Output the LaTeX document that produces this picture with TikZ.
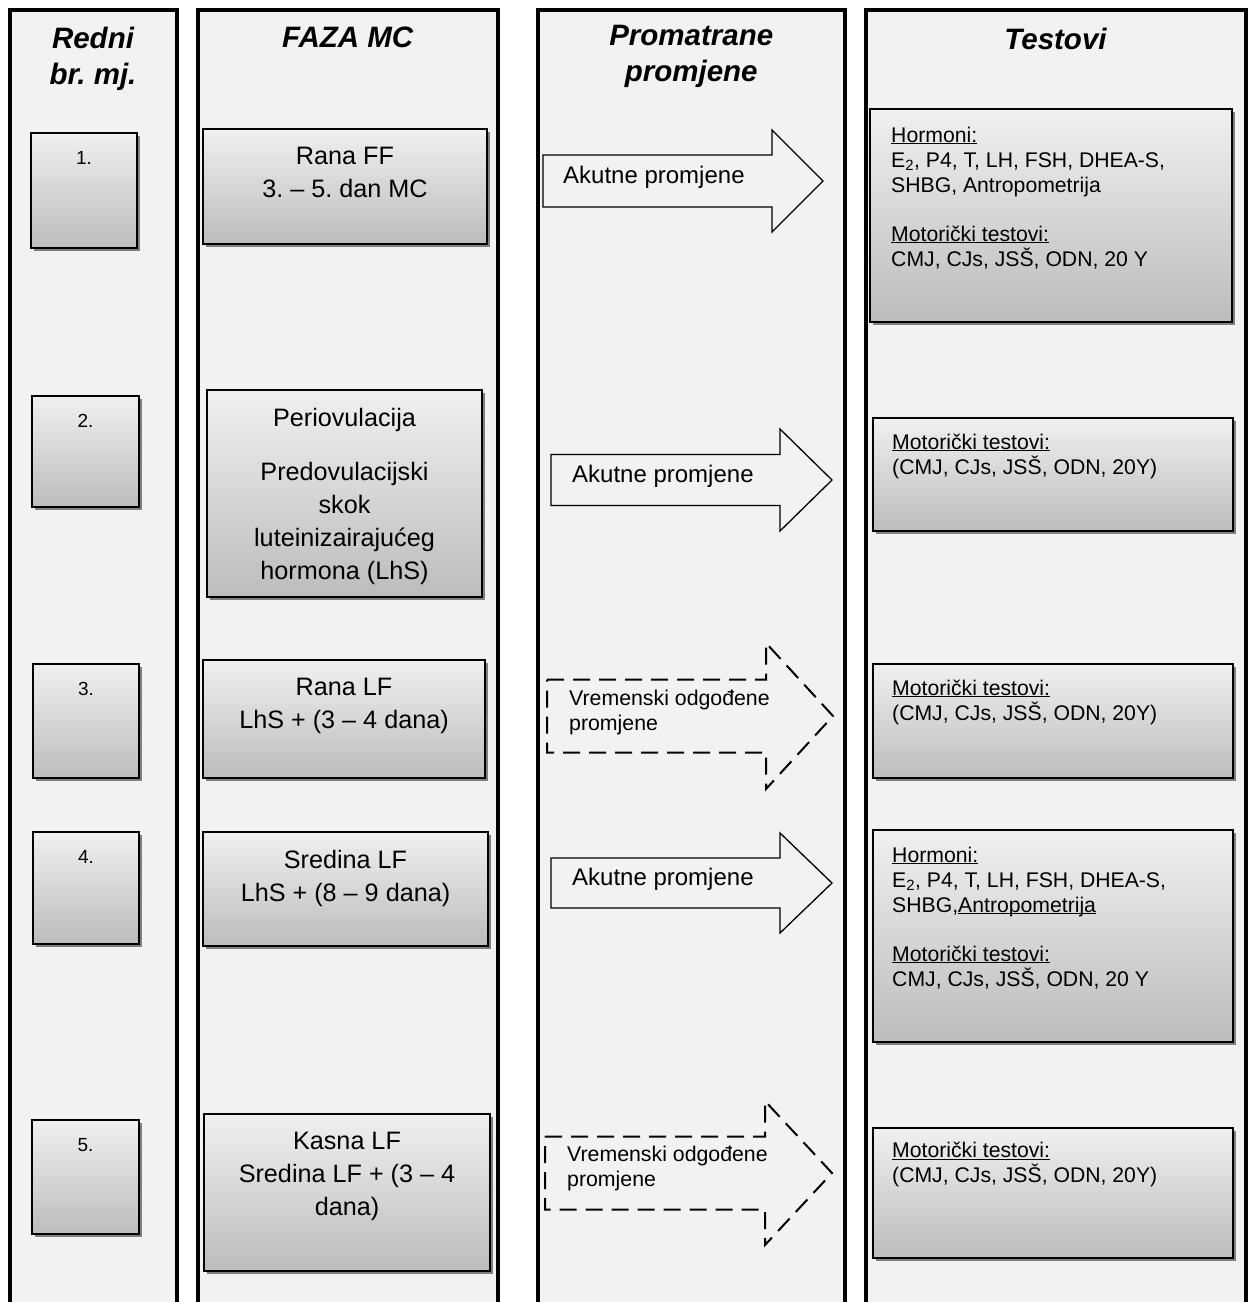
\documentclass[tikz,border=0pt]{standalone}
\usepackage{fontspec}
\setmainfont{Liberation Sans}
\usetikzlibrary{positioning,shadows}

\definecolor{pozadina}{HTML}{F2F2F2}
\definecolor{svijetla}{HTML}{F0F0F0}
\definecolor{tamna}{HTML}{BCBCBC}
\definecolor{sjena}{HTML}{7F7F7F}

\tikzset{
	stupac/.style={draw, line width=4pt, fill=pozadina, inner sep=0, outer sep=0, anchor=north west},
	naslov/.style={font=\fontsize{29.5}{36}\selectfont\bfseries\itshape, align=center, inner sep=0},
	kutija/.style={draw, line width=1.6pt, top color=svijetla, bottom color=tamna, inner sep=0, outer sep=0,
		drop shadow={shadow xshift=3pt, shadow yshift=-3pt, fill=sjena, opacity=1}},
	broj/.style={font=\fontsize{19}{23}\selectfont, inner sep=0},
	faza/.style={font=\fontsize{25.2}{33}\selectfont, align=center, inner sep=0},
	test/.style={font=\fontsize{21.2}{25}\selectfont, align=left, inner sep=0},
	promjena/.style={font=\fontsize{24}{28}\selectfont, inner sep=0, anchor=base west},
	odgoda/.style={font=\fontsize{21.3}{25}\selectfont, align=left, inner sep=0, anchor=north west},
	puna/.style={draw, line width=1.3pt, fill=pozadina, line join=miter},
	crtkana/.style={draw, line width=2pt, dash pattern=on 17pt off 9pt, line join=miter},
}

% block arrow: left x, middle y, half shaft, head x, half head, tip x
\newcommand{\strelica}[7][puna]{%
	\draw[#1] (#2,#3-#4) -- (#5,#3-#4) -- (#5,#3-#6) -- (#7,#3) -- (#5,#3+#6) -- (#5,#3+#4) -- (#2,#3+#4) -- cycle;%
}
\newcommand{\podvuci}[1]{\underline{\raisebox{0pt}[\height][0pt]{#1}}}

\begin{document}
\frenchspacing
\begin{tikzpicture}[x=1pt,y=-1pt]

	\useasboundingbox (0,0) rectangle (1249,1302);

	% columns
	\node[stupac, minimum width=167pt, minimum height=1330pt] (st1) at (9.5,10) {};
	\node[stupac, minimum width=300.5pt, minimum height=1330pt] (st2) at (197.5,10) {};
	\node[stupac, minimum width=307.5pt, minimum height=1330pt] (st3) at (537.5,10) {};
	\node[stupac, minimum width=380pt, minimum height=1330pt] (st4) at (865.5,10) {};

	\node[naslov, below=17pt of st1.north] (n1) {Redni\\br. mj.};
	\node[naslov, below=17pt of st2.north] (n2) {FAZA MC};
	\node[naslov, below=15pt of st3.north] (n3) {Promatrane\\promjene};
	\node[naslov, below=18pt of st4.north] (n4) {Testovi};

	% redni broj
	\node[kutija, minimum width=106pt, minimum height=115pt] (br1) at (84,190.5) {};
	\node[kutija, minimum width=107pt, minimum height=111pt] (br2) at (85.5,451.5) {};
	\node[kutija, minimum width=106pt, minimum height=114pt] (br3) at (86,721) {};
	\node[kutija, minimum width=106pt, minimum height=112pt] (br4) at (86,888) {};
	\node[kutija, minimum width=107pt, minimum height=114pt] (br5) at (85.5,1177) {};
	\foreach \i in {1,...,5}
		\node[broj, below=18.5pt of br\i.north] (bt\i) {\i.};

	% faza MC
	\node[kutija, minimum width=284pt, minimum height=115pt] (fz1) at (345,186.5) {};
	\node[kutija, minimum width=275pt, minimum height=207pt] (fz2) at (344.5,493.5) {};
	\node[kutija, minimum width=282pt, minimum height=118pt] (fz3) at (344,719) {};
	\node[kutija, minimum width=285pt, minimum height=114pt] (fz4) at (345.5,889) {};
	\node[kutija, minimum width=286pt, minimum height=157pt] (fz5) at (347,1192.5) {};

	\node[faza, below=18pt of fz1.north] (ft1) {Rana FF\\3. – 5. dan MC};
	\node[faza, below=18pt of fz2.north] (ft2) {Periovulacija\\[21pt]Predovulacijski\\skok\\luteinizairajućeg\\hormona (LhS)};
	\node[faza, below=18pt of fz3.north] (ft3) {Rana LF\\LhS + (3 – 4 dana)};
	\node[faza, below=18pt of fz4.north] (ft4) {Sredina LF\\LhS + (8 – 9 dana)};
	\node[faza, below=18pt of fz5.north] (ft5) {Kasna LF\\Sredina LF + (3 – 4\\dana)};

	% promjene
	\strelica{543}{181}{26}{772}{51}{823}
	\strelica{551}{480}{25.5}{780}{51}{832}
	\strelica[crtkana]{547}{716}{36.5}{766}{73}{833}
	\strelica{551}{883}{25}{780}{50}{832}
	\strelica[crtkana]{545}{1173}{36.5}{765}{72}{832}

	\node[promjena] (pr1) at (563,183) {Akutne promjene};
	\node[promjena] (pr2) at (572,482) {Akutne promjene};
	\node[odgoda] (pr3) at (569,690) {Vremenski odgođene\\promjene};
	\node[promjena] (pr4) at (572,885) {Akutne promjene};
	\node[odgoda] (pr5) at (567,1146) {Vremenski odgođene\\promjene};

	% testovi
	\node[kutija, minimum width=362pt, minimum height=213pt] (ts1) at (1051,215.5) {};
	\node[kutija, minimum width=360pt, minimum height=113pt] (ts2) at (1053,474.5) {};
	\node[kutija, minimum width=360pt, minimum height=114pt] (ts3) at (1053,721) {};
	\node[kutija, minimum width=360pt, minimum height=212pt] (ts4) at (1053,936) {};
	\node[kutija, minimum width=360pt, minimum height=130pt] (ts5) at (1053,1193) {};

	\node[test, below right=17.5pt and 21pt of ts1.north west] (tt1) {\podvuci{Hormoni:}\\E\textsubscript{2}, P4, T, LH, FSH, DHEA-S,\\SHBG, Antropometrija\\[24pt]\podvuci{Motorički testovi:}\\CMJ, CJs, JSŠ, ODN, 20 Y};
	\node[test, below right=15.5pt and 19pt of ts2.north west] (tt2) {\podvuci{Motorički testovi:}\\(CMJ, CJs, JSŠ, ODN, 20Y)};
	\node[test, below right=15.5pt and 19pt of ts3.north west] (tt3) {\podvuci{Motorički testovi:}\\(CMJ, CJs, JSŠ, ODN, 20Y)};
	\node[test, below right=16.5pt and 19pt of ts4.north west] (tt4) {\podvuci{Hormoni:}\\E\textsubscript{2}, P4, T, LH, FSH, DHEA-S,\\SHBG,\podvuci{Antropometrija}\\[24pt]\podvuci{Motorički testovi:}\\CMJ, CJs, JSŠ, ODN, 20 Y};
	\node[test, below right=14pt and 19pt of ts5.north west] (tt5) {\podvuci{Motorički testovi:}\\(CMJ, CJs, JSŠ, ODN, 20Y)};

\end{tikzpicture}
\end{document}
